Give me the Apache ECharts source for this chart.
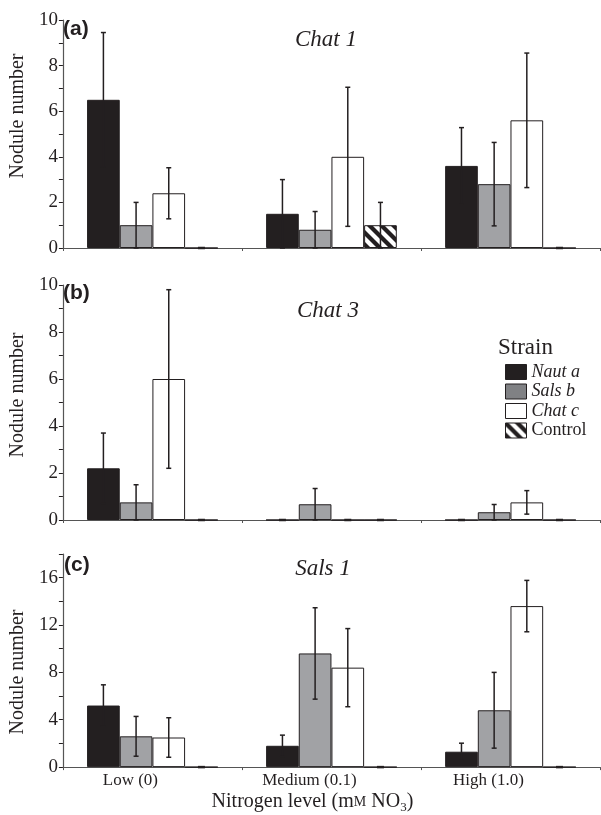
<!DOCTYPE html>
<html>
<head>
<meta charset="utf-8">
<script src="https://cdn.jsdelivr.net/npm/echarts@6/dist/echarts.min.js"></script>
<style>
html,body{margin:0;padding:0;background:#fff;}
#chart{width:601px;height:815px;}
</style>
</head>
<body>
<div id="chart"></div>
<script>
// ---- data ----
const categories = ['Low (0)', 'Medium (0.1)', 'High (1.0)'];
const strains = ['Naut a', 'Sals b', 'Chat c', 'Control'];
const panelTitles = ['Chat 1', 'Chat 3', 'Sals 1'];
const panelLetters = ['(a)', '(b)', '(c)'];

// Panel (a) Chat 1
const chat1Naut = [6.5, 1.5, 3.6];
const chat1NautErr = [2.95, 1.5, 1.68];
const chat1Sals = [1.0, 0.8, 2.8];
const chat1SalsErr = [1.0, 0.8, 1.83];
const chat1Chat = [2.4, 4.0, 5.6];
const chat1ChatErr = [1.12, 3.05, 2.95];
const chat1Control = [0, 1.0, 0];
const chat1ControlErr = [0, 1.0, 0];

// Panel (b) Chat 3
const chat3Naut = [2.2, 0, 0];
const chat3NautErr = [1.5, 0, 0];
const chat3Sals = [0.75, 0.67, 0.33];
const chat3SalsErr = [0.75, 0.67, 0.33];
const chat3Chat = [6.0, 0, 0.75];
const chat3ChatErr = [3.8, 0, 0.5];
const chat3Control = [0, 0, 0];
const chat3ControlErr = [0, 0, 0];

// Panel (c) Sals 1
const sals1Naut = [5.2, 1.8, 1.3];
const sals1NautErr = [1.75, 0.9, 0.72];
const sals1Sals = [2.6, 9.6, 4.8];
const sals1SalsErr = [1.68, 3.86, 3.2];
const sals1Chat = [2.5, 8.4, 13.6];
const sals1ChatErr = [1.67, 3.3, 2.17];
const sals1Control = [0, 0, 0];
const sals1ControlErr = [0, 0, 0];

const yMax = [10, 10, 18];
const yLabelStep = [2, 2, 4];
const yTickStep = [1, 1, 2];

const panels = [
  [[chat1Naut, chat1NautErr], [chat1Sals, chat1SalsErr], [chat1Chat, chat1ChatErr], [chat1Control, chat1ControlErr]],
  [[chat3Naut, chat3NautErr], [chat3Sals, chat3SalsErr], [chat3Chat, chat3ChatErr], [chat3Control, chat3ControlErr]],
  [[sals1Naut, sals1NautErr], [sals1Sals, sals1SalsErr], [sals1Chat, sals1ChatErr], [sals1Control, sals1ControlErr]]
];

// ---- styles ----
const SERIF = 'Liberation Serif';
const SANS = 'Liberation Sans';
const INK = '#231f20';
const AXIS = '#555';

function stripePattern() {
  const c = document.createElement('canvas');
  c.width = 12; c.height = 12;
  const g = c.getContext('2d');
  g.fillStyle = '#fff'; g.fillRect(0, 0, 12, 12);
  g.strokeStyle = INK; g.lineWidth = 4.2;
  for (let k = -1; k <= 1; k++) {
    g.beginPath();
    g.moveTo(-2, -2 + k * 12);
    g.lineTo(14, 14 + k * 12);
    g.stroke();
  }
  return c;
}
const stripes = { image: stripePattern(), repeat: 'repeat' };
const fills = [INK, '#a1a2a5', '#ffffff', stripes];

const GAP = 0.27;
const grids = [
  { left: 57, right: 1, top: 20, height: 228 },
  { left: 57, right: 1, top: 285, height: 235 },
  { left: 57, right: 1, top: 554, height: 216 }
];
const namePad = [[0, 0, 0, 36], [0, 0, 0, 15], [0, 23, 0, 0]];

const xAxes = [], yAxes = [], series = [], titles = [];
for (let p = 0; p < 3; p++) {
  xAxes.push({
    type: 'category', gridIndex: p, data: categories,
    axisLine: { lineStyle: { color: AXIS, width: 1.2 } },
    axisTick: { show: true, length: 3, lineStyle: { color: AXIS } },
    axisLabel: p === 2 ? {
      fontFamily: SERIF, fontSize: 17, color: INK, margin: 5, padding: [0, 44, 0, 0]
    } : { show: false },
    name: p === 2 ? 'Nitrogen level (m{sc|M} NO{sub|3})' : '',
    nameLocation: 'middle', nameGap: 22,
    nameTextStyle: {
      fontFamily: SERIF, fontSize: 20, color: INK, lineHeight: 24, padding: [0, 38, 0, 0],
      rich: {
        sc: { fontFamily: SERIF, fontSize: 14, color: INK, lineHeight: 24, verticalAlign: 'middle' },
        sub: { fontFamily: SERIF, fontSize: 13, color: INK, lineHeight: 14, verticalAlign: 'bottom' }
      }
    }
  });
  yAxes.push({
    type: 'value', gridIndex: p, min: 0, max: yMax[p], interval: yTickStep[p],
    splitLine: { show: false },
    axisLine: { show: true, lineStyle: { color: AXIS, width: 1.2 } },
    axisTick: { show: true, length: 4, lineStyle: { color: INK } },
    axisLabel: {
      fontFamily: SERIF, fontSize: 19, color: INK, margin: 5,
      formatter: v => (v % yLabelStep[p] === 0 ? String(v) : '')
    },
    name: 'Nodule number', nameLocation: 'middle', nameGap: 32,
    nameTextStyle: { fontFamily: SERIF, fontSize: 20, color: INK, padding: namePad[p] }
  });
  for (let s = 0; s < 4; s++) {
    const [vals, errs] = panels[p][s];
    series.push({
      type: 'bar', name: strains[s], xAxisIndex: p, yAxisIndex: p,
      data: vals, barGap: '0%', barCategoryGap: (GAP * 100) + '%',
      itemStyle: { color: fills[s], borderColor: INK, borderWidth: 1 },
      emphasis: { disabled: true }
    });
  }
  for (let s = 0; s < 4; s++) {
    const [vals, errs] = panels[p][s];
    const idx = s;
    series.push({
      type: 'custom', name: 'err-' + p + '-' + s, xAxisIndex: p, yAxisIndex: p, z: 10,
      data: vals.map((v, i) => [i, v, errs[i]]),
      renderItem: function (params, api) {
        const cat = api.value(0), v = api.value(1), e = api.value(2);
        const band = api.size([1, 0])[0];
        const bw = band * (1 - GAP) / 4;
        const x = api.coord([cat, v])[0] + (idx - 1.5) * bw;
        const st = { stroke: INK, lineWidth: 1.5 };
        if (e === 0) {
          const y0 = api.coord([cat, 0])[1];
          return { type: 'line', shape: { x1: x - 3.5, y1: y0, x2: x + 3.5, y2: y0 },
                   style: { stroke: INK, lineWidth: 2.5 } };
        }
        const yT = api.coord([cat, v + e])[1];
        const yB = api.coord([cat, Math.max(0, v - e)])[1];
        const cap = 2.5;
        return { type: 'group', children: [
          { type: 'line', shape: { x1: x, y1: yT, x2: x, y2: yB }, style: st },
          { type: 'line', shape: { x1: x - cap, y1: yT, x2: x + cap, y2: yT }, style: st },
          { type: 'line', shape: { x1: x - cap, y1: yB, x2: x + cap, y2: yB }, style: st }
        ] };
      }
    });
  }
}

const titlePos = [[326, 28], [328, 299], [323, 557]];
const letterPos = [[63, 19], [63, 283], [64, 555]];
for (let p = 0; p < 3; p++) {
  titles.push({
    text: panelTitles[p], left: titlePos[p][0], top: titlePos[p][1], textAlign: 'center', padding: 0,
    textStyle: { fontFamily: SERIF, fontStyle: 'italic', fontWeight: 'normal', fontSize: 23, color: INK }
  });
  titles.push({
    text: panelLetters[p], left: letterPos[p][0], top: letterPos[p][1], padding: 0,
    textStyle: { fontFamily: SANS, fontWeight: 'bold', fontSize: 21, color: INK }
  });
}
titles.push({
  text: 'Strain', left: 498, top: 336, padding: 0,
  textStyle: { fontFamily: SERIF, fontWeight: 'normal', fontSize: 23, color: INK }
});

const chart = echarts.init(document.getElementById('chart'), null, { renderer: 'canvas' });
chart.setOption({
  animation: false,
  backgroundColor: '#fff',
  title: titles,
  grid: grids,
  xAxis: xAxes,
  yAxis: yAxes,
  legend: {
    orient: 'vertical', left: 505, top: 363, padding: 0,
    itemWidth: 21, itemHeight: 15, itemGap: 1.5, icon: 'rect', selectedMode: false,
    itemStyle: { borderWidth: 1, borderColor: INK },
    data: [
      { name: 'Naut a' },
      { name: 'Sals b', itemStyle: { color: '#808184' } },
      { name: 'Chat c' },
      { name: 'Control' }
    ],
    formatter: n => (n === 'Control' ? '{n|' + n + '}' : '{i|' + n + '}'),
    textStyle: {
      fontFamily: SERIF, fontSize: 18, color: INK, lineHeight: 15,
      rich: {
        i: { fontFamily: SERIF, fontStyle: 'italic', fontSize: 18, color: INK, lineHeight: 15 },
        n: { fontFamily: SERIF, fontSize: 18, color: INK, lineHeight: 15 }
      }
    }
  },
  series: series
});
</script>
</body>
</html>
